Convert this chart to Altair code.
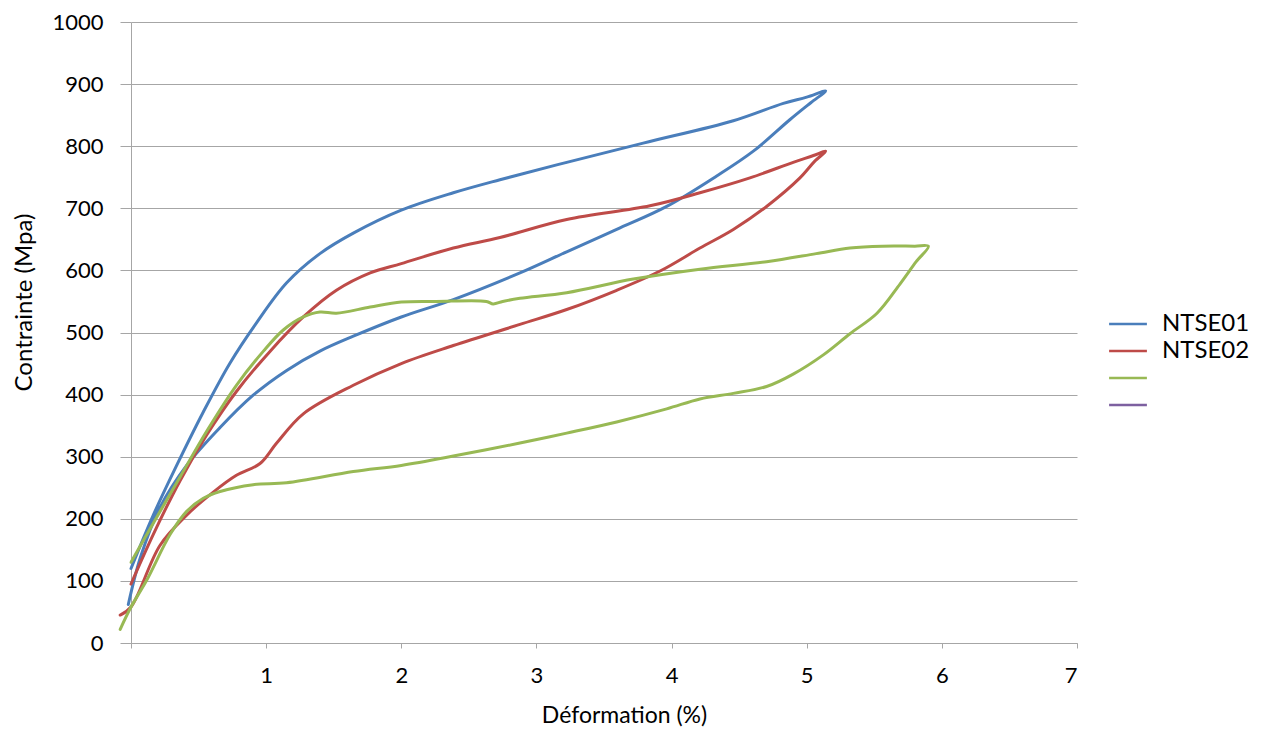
import altair as alt
import pandas as pd

series_names = ["NTSE01", "NTSE02", "Série3", "Série4"]
series_colors = ["#4A7EBB", "#BE4B48", "#98B954", "#7D60A0"]

# NTSE01 (blue): loading branch then unloading branch
ntse01_x = [0.0, 0.165, 0.338, 0.535, 0.733, 0.93, 1.152, 1.398, 1.645, 2.0, 2.385, 2.73, 3.224, 3.79, 4.457, 4.827, 5.0, 5.14,
            5.03, 4.877, 4.605, 4.334, 3.964, 3.594, 3.224, 2.878, 2.385, 2.0, 1.645, 1.398, 1.152, 0.904, 0.659, 0.412, 0.214, 0.07, -0.02]
ntse01_y = [120, 206, 286, 372, 451, 516, 580, 627, 660, 697, 725, 746, 774, 805, 841, 869, 879, 889,
            870, 843, 792, 752, 703, 666, 630, 596, 553, 525, 494, 470, 439, 399, 347, 286, 218, 138, 62]

# NTSE02 (red)
ntse02_x = [0.0, 0.165, 0.362, 0.56, 0.78, 1.03, 1.275, 1.52, 1.77, 2.0, 2.385, 2.73, 3.224, 3.84, 4.21, 4.58, 4.9, 5.05, 5.14,
            5.06, 4.95, 4.703, 4.457, 4.21, 3.915, 3.594, 3.224, 2.878, 2.385, 2.0, 1.645, 1.275, 1.078, 0.955, 0.78, 0.609, 0.412, 0.214, 0.0, -0.08]
ntse02_y = [95, 175, 261, 335, 405, 470, 525, 568, 596, 611, 636, 653, 682, 704, 725, 749, 774, 785, 792,
            776, 749, 703, 666, 636, 599, 568, 537, 513, 479, 450, 415, 369, 322, 289, 270, 243, 206, 157, 58, 45]

# Série 3 (green)
serie3_x = [0.0, 0.165, 0.362, 0.56, 0.78, 0.98, 1.127, 1.275, 1.398, 1.52, 1.77, 2.0, 2.26, 2.63, 2.68, 2.75, 2.878, 3.224, 3.717, 4.21, 4.703, 5.07, 5.32, 5.56, 5.8, 5.9,
            5.81, 5.69, 5.52, 5.32, 5.123, 4.9, 4.703, 4.457, 4.21, 3.964, 3.594, 3.224, 2.878, 2.385, 2.0, 1.645, 1.152, 0.904, 0.659, 0.535, 0.412, 0.29, 0.116, 0.0, -0.08]
serie3_y = [130, 193, 267, 341, 415, 470, 504, 525, 533, 531, 541, 549, 550, 550, 546, 550, 555, 564, 586, 602, 614, 627, 636, 639, 639, 639,
            614, 578, 531, 498, 464, 433, 413, 402, 393, 377, 356, 338, 322, 301, 286, 276, 258, 255, 244, 233, 212, 175, 101, 58, 22]

x_ticks = [0, 1, 2, 3, 4, 5, 6, 7]
y_ticks = [0, 100, 200, 300, 400, 500, 600, 700, 800, 900, 1000]

rows = []
for name, xs, ys in [("NTSE01", ntse01_x, ntse01_y), ("NTSE02", ntse02_x, ntse02_y), ("Série3", serie3_x, serie3_y)]:
    for i, (xv, yv) in enumerate(zip(xs, ys)):
        rows.append({"series": name, "x": xv, "y": yv, "order": i})
df = pd.DataFrame(rows)

chart = alt.Chart(df).mark_line(strokeWidth=3, clip=False, strokeJoin="round", strokeCap="round", interpolate="catmull-rom").encode(
    x=alt.X("x:Q",
            scale=alt.Scale(domain=[0, 7], nice=False, zero=False),
            axis=alt.Axis(values=x_ticks, grid=False, title="Déformation (%)",
                          labelExpr="datum.value == 0 ? '' : datum.label",
                          labelFont="Lato", labelFontSize=22, labelColor="#000000",
                          labelPadding=17, tickSize=5, tickColor="#A6A6A6",
                          domainColor="#A6A6A6", domainWidth=1,
                          titleFont="Lato", titleFontSize=23, titleFontWeight="normal",
                          titleColor="#000000", titleX=493, titleY=72, titleAlign="center",
                          titleBaseline="middle")),
    y=alt.Y("y:Q",
            scale=alt.Scale(domain=[0, 1000], nice=False),
            axis=alt.Axis(values=y_ticks, grid=True, gridColor="#A6A6A6", gridWidth=1,
                          title="Contrainte (Mpa)", format="d",
                          labelFont="Lato", labelFontSize=22, labelColor="#000000",
                          labelPadding=17, tickSize=11, tickColor="#A6A6A6",
                          domainColor="#A6A6A6", domainWidth=1,
                          titleFont="Lato", titleFontSize=24, titleFontWeight="normal",
                          titleColor="#000000", titleX=-107, titleY=280, titleAlign="center",
                          titleBaseline="middle", titleAngle=270)),
    color=alt.Color("series:N",
                    scale=alt.Scale(domain=series_names, range=series_colors),
                    legend=alt.Legend(title=None, orient="none", legendX=982, legendY=287,
                                      symbolType="M-1.4,0L1.4,0", symbolStrokeWidth=2.5, symbolSize=729,
                                      labelFont="Lato", labelFontSize=24, labelColor="#000000",
                                      labelOffset=19, rowPadding=0,
                                      labelExpr="indexof(['NTSE01','NTSE02'], datum.label) >= 0 ? datum.label : ''")),
    order="order:Q",
).properties(
    width=946, height=621,
    padding={"left": 123, "top": 14, "right": 180, "bottom": 88},
    autosize=alt.AutoSizeParams(type="none"),
).configure_view(stroke=None)

chart.save("out.html", embed_options={"renderer": "svg", "actions": False})
